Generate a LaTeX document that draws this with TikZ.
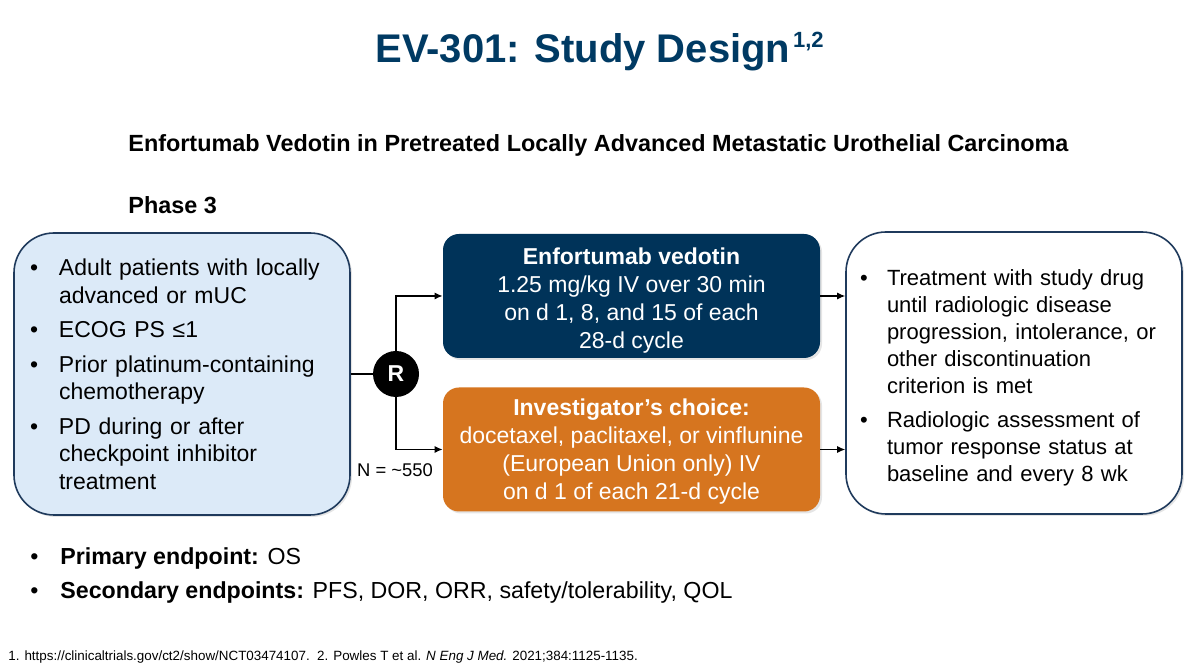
\documentclass[tikz,border=0pt]{standalone}
\usepackage{fontspec}
\setmainfont{Liberation Sans}
\usetikzlibrary{arrows.meta,shadows}
\definecolor{navy}{HTML}{003359}
\definecolor{titlenavy}{HTML}{003A63}
\definecolor{orangebox}{HTML}{D6751F}
\definecolor{lightblue}{HTML}{DCEAF8}
\definecolor{border}{HTML}{1F3A5C}
\newcommand\bul[2]{\par\hangindent=#1\hangafter=1\noindent\makebox[#1][l]{\textbullet}#2}
\tikzset{
  bigbox/.style={draw=border, line width=0.8pt, rounded corners=20pt, minimum width=168pt, minimum height=141pt, inner sep=0pt,
    drop shadow={opacity=0.2, shadow xshift=1pt, shadow yshift=-1pt}},
  bigtext/.style={inner sep=0pt, align=left},
  armbox/.style={draw=none, rounded corners=8pt, minimum width=188.5pt, minimum height=62pt, inner sep=0pt,
    drop shadow={opacity=0.2, shadow xshift=1pt, shadow yshift=-1pt}},
  armtext/.style={inner sep=0pt, align=center, text=white, font=\fontsize{11.5}{14}\selectfont},
  conn/.style={line width=0.6pt, draw=black},
  arr/.style={conn, -{Latex[length=4pt,width=3.5pt]}},
  txt/.style={inner sep=0pt, anchor=base west, align=left},
}
\begin{document}
\begin{tikzpicture}[x=0.5pt,y=-0.5pt]
\useasboundingbox (0,0) rectangle (1200,672);
\fill[white] (0,0) rectangle (1200,672);

\node[txt, text=titlenavy, font=\fontsize{20}{24}\bfseries\selectfont] (title) at (375,63) {EV-301: Study Design\kern1.4pt\raisebox{7.5pt}{\fontsize{11}{13}\bfseries\selectfont 1,2}};
\node[txt, font=\fontsize{11.7}{13}\bfseries\selectfont] (sub) at (128,152) {Enfortumab Vedotin in Pretreated Locally Advanced Metastatic Urothelial Carcinoma};
\node[txt, font=\fontsize{11.7}{13}\bfseries\selectfont] (phase) at (128,214) {Phase 3};

% boxes
\node[bigbox, fill=lightblue] (left) at (182,374) {};
\node[bigbox, fill=white] (right) at (1014,373) {};
\node[armbox, fill=navy] (ev) at (631.5,296) {};
\node[armbox, fill=orangebox] (ic) at (631.5,449.5) {};

\node[bigtext, text width=160pt, font=\fontsize{11.5}{13.75}\selectfont] (lefttxt) at (190,365.5) {%
\setlength{\parskip}{3.5pt}\hyphenpenalty=10000\exhyphenpenalty=10000%
\bul{14.5pt}{Adult patients with locally\newline advanced or mUC}
\bul{14.5pt}{ECOG PS ≤1}
\bul{14.5pt}{Prior platinum-containing\newline chemotherapy}
\bul{14.5pt}{PD during or after\newline checkpoint inhibitor\newline treatment}\par};

\node[bigtext, text width=160pt, font=\fontsize{11}{13.5}\selectfont] (righttxt) at (1020,368.5) {%
\setlength{\parskip}{3.5pt}\hyphenpenalty=10000\exhyphenpenalty=10000%
\bul{13.5pt}{Treatment with study drug\newline until radiologic disease\newline progression, intolerance, or\newline other discontinuation\newline criterion is met}
\bul{13.5pt}{Radiologic assessment of\newline tumor response status at\newline baseline and every 8 wk}\par};

\node[armtext] (evtxt) at (631.5,301) {\textbf{Enfortumab vedotin}\\1.25 mg/kg IV over 30 min\\on d 1, 8, and 15 of each\\28-d cycle};
\node[armtext] (ictxt) at (631.5,451.5) {\textbf{Investigator’s choice:}\\docetaxel, paclitaxel, or vinflunine\\(European Union only) IV\\on d 1 of each 21-d cycle};

\node[circle, fill=black, minimum size=23pt, inner sep=0pt, text=white, font=\fontsize{11.5}{12}\bfseries\selectfont] (R) at (396,374) {R};
\node[inner sep=0pt, font=\fontsize{9.2}{10}\selectfont] (N) at (395,470) {N = \textasciitilde550};

\draw[conn] (left.east |- R) -- (R.west);
\draw[arr] (R.north) |- (ev.west);
\draw[arr] (R.south) |- (ic.west);
\draw[arr] (ev.east) -- (right.west |- ev.east);
\draw[arr] (ic.east) -- (right.west |- ic.east);

\node[txt, font=\fontsize{11.6}{13}\selectfont] (ep1) at (30,565) {\makebox[15pt][l]{\textbullet}\textbf{Primary endpoint:} OS};
\node[txt, font=\fontsize{11.6}{13}\selectfont] (ep2) at (30,599) {\makebox[15pt][l]{\textbullet}\textbf{Secondary endpoints:} PFS, DOR, ORR, safety/tolerability, QOL};

\node[txt, font=\fontsize{6.7}{8}\selectfont] (fn) at (8,661) {1. https://clinicaltrials.gov/ct2/show/NCT03474107.\ \ 2. Powles T et al. \textit{N Eng J Med.} 2021;384:1125-1135.};
\end{tikzpicture}
\end{document}
